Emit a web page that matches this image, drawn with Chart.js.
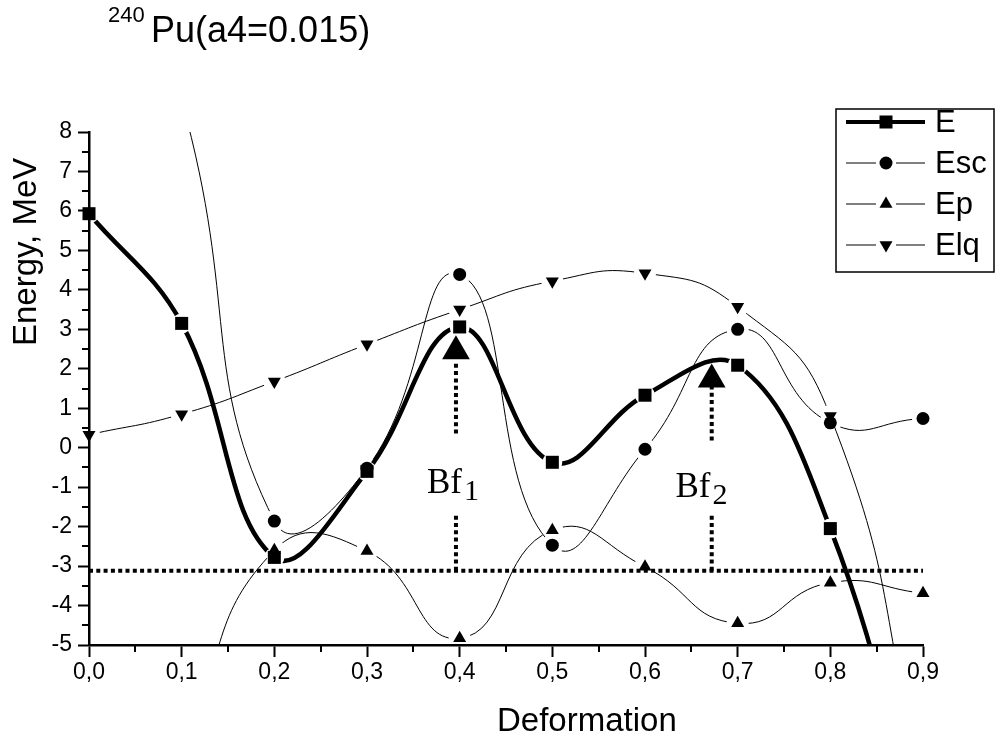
<!DOCTYPE html>
<html>
<head>
<meta charset="utf-8">
<script src="https://cdn.jsdelivr.net/npm/chart.js@4.4.1/dist/chart.umd.min.js"></script>
<style>
    html, body { margin: 0; padding: 0; background: #fff; }
    #wrap { width: 996px; height: 738px; }
</style>
</head>
<body>
<div id="wrap"><canvas id="myChart" width="996" height="738"></canvas></div>
<script>
// deformation grid and the four energy curves (MeV); values off the plot are estimates
const deformation = [0.0, 0.1, 0.2, 0.3, 0.4, 0.5, 0.6, 0.7, 0.8, 0.9];
const energyE   = [5.93, 3.15, -2.78, -0.6, 3.06, -0.37, 1.33, 2.09, -2.05, -10.0];
const energyEsc = [15.0, 8.8, -1.86, -0.52, 4.39, -2.47, -0.04, 3.0, 0.63, 0.74];
const energyEp  = [-12.0, -7.5, -2.6, -2.62, -4.83, -2.09, -3.02, -4.45, -3.42, -3.69];
const energyElq = [0.33, 0.85, 1.68, 2.62, 3.5, 4.22, 4.42, 3.57, 0.8, -8.5];
const seriesNames = ['E', 'Esc', 'Ep', 'Elq'];

// axes
const xMin = 0, xMax = 0.9, xStep = 0.1;
const yMin = -5, yMax = 8, yStep = 1;

// fission barrier markers
const groundLevel = -3.12;
const barrierX = [0.396, 0.672];
const barrierLower = [-1.66, -1.71];
const barrierUpperFrom = [0.36, 0.18];
const barrierUpperTo = [2.13, 1.58];
const barrierArrowY = [2.445, 1.73];
const barrierLabelX = [0.3647, 0.6328];
const barrierLabelY = [-1.16, -1.25];
const barrierIndex = ['1', '2'];

const pts = (ys) => deformation.map((x, i) => ({ x: x, y: ys[i] }));

const seriesStyle = [
    { data: energyE,   pointStyle: 'rect',     radius: 9.2, rotation: 0,   width: 4.5, tension: 0.4 },
    { data: energyEsc, pointStyle: 'circle',   radius: 6.5, rotation: 0,   width: 1,   tension: 0.5 },
    { data: energyEp,  pointStyle: 'triangle', radius: 7.5, rotation: 0,   width: 1,   tension: 0.5 },
    { data: energyElq, pointStyle: 'triangle', radius: 7.5, rotation: 180, width: 1,   tension: 0.5 }
];

const seriesClip = { left: 12, right: 12, top: 0, bottom: 0 };
const datasets = [];

// markers first so they sit on top of every curve
seriesStyle.forEach((s, i) => {
    datasets.push({
        label: seriesNames[i],
        data: pts(s.data),
        showLine: false,
        pointStyle: s.pointStyle,
        pointRotation: s.rotation,
        pointRadius: s.radius,
        pointBorderWidth: 0,
        pointBackgroundColor: '#000',
        clip: seriesClip
    });
});

// curves, broken around their own markers
seriesStyle.forEach((s, i) => {
    datasets.push({
        label: seriesNames[i] + ' curve',
        data: pts(s.data),
        showLine: true,
        tension: s.tension,
        borderColor: '#000',
        borderWidth: s.width,
        pointRadius: 0,
        gapRadius: i === 0 ? 10 : 11,
        clip: seriesClip
    });
});

const dotted = {
    showLine: true,
    borderColor: '#000',
    borderWidth: 4,
    borderDash: [4, 3.3],
    pointRadius: 0,
    tension: 0,
    spanGaps: false
};

datasets.push(Object.assign({}, dotted, {
    label: 'ground',
    data: [{ x: xMin, y: groundLevel }, { x: xMax, y: groundLevel }]
}));

barrierX.forEach((bx, i) => {
    datasets.push(Object.assign({}, dotted, {
        label: 'barrier' + i,
        data: [
            { x: bx, y: groundLevel }, { x: bx, y: barrierLower[i] },
            { x: bx, y: null },
            { x: bx, y: barrierUpperFrom[i] }, { x: bx, y: barrierUpperTo[i] }
        ]
    }));
});

datasets.push({
    label: 'arrows',
    data: barrierX.map((bx, i) => ({ x: bx, y: barrierArrowY[i] })),
    showLine: false,
    pointStyle: 'triangle',
    pointRadius: 16,
    pointBorderWidth: 0,
    pointBackgroundColor: '#000'
});

// cut the curve open around each of its markers, like the original plot
const markerGaps = {
    id: 'markerGaps',
    beforeDatasetDraw(chart, args) {
        const r = chart.data.datasets[args.index].gapRadius;
        if (!r) return;
        const ctx = chart.ctx;
        ctx.save();
        ctx.beginPath();
        ctx.rect(0, 0, chart.width, chart.height);
        args.meta.data.forEach((p) => {
            if (p.skip) return;
            ctx.moveTo(p.x + r, p.y);
            ctx.arc(p.x, p.y, r, 0, Math.PI * 2);
        });
        ctx.clip('evenodd');
    },
    afterDatasetDraw(chart, args) {
        if (chart.data.datasets[args.index].gapRadius) chart.ctx.restore();
    }
};

const minorTicks = {
    id: 'minorTicks',
    afterDraw(chart) {
        const { ctx, scales: { x, y } } = chart;
        ctx.save();
        ctx.strokeStyle = '#000';
        ctx.lineWidth = 2;
        ctx.beginPath();
        for (let v = yMin + yStep / 2; v < yMax; v += yStep) {
            const py = Math.round(y.getPixelForValue(v));
            ctx.moveTo(x.left, py);
            ctx.lineTo(x.left - 7, py);
        }
        for (let v = xMin + xStep / 2; v < xMax; v += xStep) {
            const px = Math.round(x.getPixelForValue(v));
            ctx.moveTo(px, y.bottom);
            ctx.lineTo(px, y.bottom + 7);
        }
        ctx.stroke();
        ctx.restore();
    }
};

const texts = {
    id: 'texts',
    afterDraw(chart) {
        const { ctx, scales: { x, y } } = chart;
        ctx.save();
        ctx.fillStyle = '#000';
        ctx.textBaseline = 'alphabetic';
        ctx.textAlign = 'left';

        // title
        ctx.font = '22px "Liberation Sans", Arial, sans-serif';
        ctx.fillText('240', 108, 22);
        ctx.font = '36px "Liberation Sans", Arial, sans-serif';
        ctx.fillText('Pu(a4=0.015)', 151, 42);

        // axis titles
        ctx.font = '33px "Liberation Sans", Arial, sans-serif';
        ctx.fillText('Deformation', 497, 731);
        ctx.save();
        ctx.translate(36, 346);
        ctx.rotate(-Math.PI / 2);
        ctx.fillText('Energy, MeV', 0, 0);
        ctx.restore();

        // barrier labels
        barrierX.forEach((bx, i) => {
            const px = x.getPixelForValue(barrierLabelX[i]);
            const py = y.getPixelForValue(barrierLabelY[i]);
            ctx.font = '35px "Liberation Serif", "Times New Roman", serif';
            ctx.fillText('Bf', px, py);
            const w = ctx.measureText('Bf').width;
            ctx.font = '30px "Liberation Serif", "Times New Roman", serif';
            ctx.fillText(barrierIndex[i], px + w + 2, py + 7);
        });

        // legend
        const lx = 836, ly = 109, lw = 158, lh = 163;
        ctx.fillStyle = '#fff';
        ctx.fillRect(lx, ly, lw, lh);
        ctx.strokeStyle = '#000';
        ctx.lineWidth = 1.5;
        ctx.strokeRect(lx, ly, lw, lh);
        seriesStyle.forEach((s, i) => {
            const cy = 122 + i * 41;
            const gap = s.width === 1 ? 10 : 0;
            ctx.strokeStyle = '#000';
            ctx.lineWidth = s.width === 1 ? 1 : 4;
            ctx.beginPath();
            ctx.moveTo(846, cy);
            ctx.lineTo(886 - gap, cy);
            ctx.moveTo(886 + gap, cy);
            ctx.lineTo(925, cy);
            ctx.stroke();
            ctx.fillStyle = '#000';
            Chart.helpers.drawPoint(ctx, {
                pointStyle: s.pointStyle, rotation: s.rotation,
                radius: s.radius, borderWidth: 0
            }, 886, cy);
            ctx.font = '31px "Liberation Sans", Arial, sans-serif';
            ctx.textBaseline = 'middle';
            ctx.fillText(seriesNames[i], 935, cy + 1);
            ctx.textBaseline = 'alphabetic';
        });
        ctx.restore();
    }
};

const ctx = document.getElementById('myChart').getContext('2d');
new Chart(ctx, {
    type: 'scatter',
    data: { datasets: datasets },
    options: {
        responsive: false,
        animation: false,
        devicePixelRatio: 1,
        layout: { padding: { left: 0, top: 132, right: 73, bottom: 0 } },
        plugins: { legend: { display: false }, tooltip: { enabled: false } },
        scales: {
            x: {
                type: 'linear',
                min: xMin, max: xMax,
                afterFit: (s) => { s.height = 93; },
                border: { display: true, color: '#000', width: 2.5 },
                grid: { drawOnChartArea: false, drawTicks: true, tickLength: 12, tickColor: '#000', tickWidth: 2 },
                ticks: {
                    stepSize: xStep, color: '#000', padding: 2, maxRotation: 0,
                    font: { family: '"Liberation Sans", Arial, sans-serif', size: 23 },
                    callback: (v) => v.toFixed(1).replace('.', ',')
                }
            },
            y: {
                type: 'linear',
                min: yMin, max: yMax,
                afterFit: (s) => { s.width = 89; },
                border: { display: true, color: '#000', width: 2.5 },
                grid: { drawOnChartArea: false, drawTicks: true, tickLength: 11, tickColor: '#000', tickWidth: 2 },
                ticks: {
                    stepSize: yStep, color: '#000', padding: 6,
                    font: { family: '"Liberation Sans", Arial, sans-serif', size: 23 }
                }
            }
        }
    },
    plugins: [markerGaps, minorTicks, texts]
});
</script>
</body>
</html>
